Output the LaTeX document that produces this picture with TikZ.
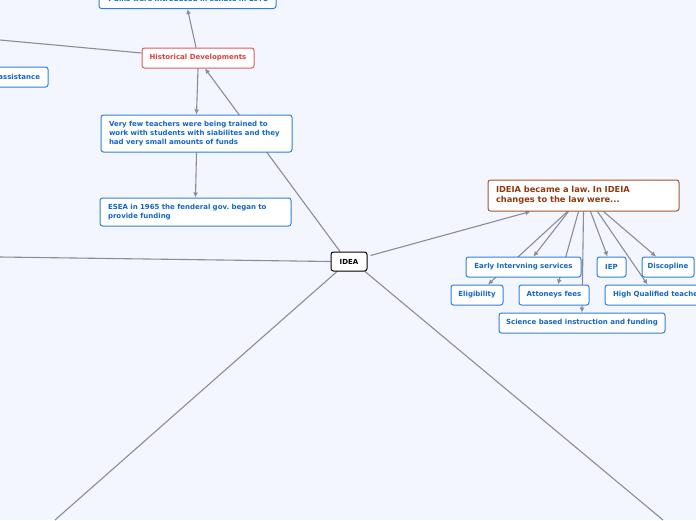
\documentclass[tikz,border=0pt]{standalone}
\usepackage{fontspec}
\setmainfont{DejaVu Sans}
\frenchspacing
\usepackage{tikz}
\usetikzlibrary{arrows.meta,calc,backgrounds}
\definecolor{mbg}{HTML}{F3F6FE}
\definecolor{mblue}{HTML}{2F80DA}
\definecolor{mtext}{HTML}{1466C8}
\definecolor{mred}{HTML}{E25B5B}
\definecolor{mredtext}{HTML}{E03E3E}
\definecolor{mbrown}{HTML}{A4562E}
\definecolor{mbrowntext}{HTML}{8E3A12}
\definecolor{mline}{HTML}{8A8C98}

\begin{document}
\begin{tikzpicture}[x=1pt,y=-1pt,
    topic/.style={draw=mblue,fill=white,rounded corners=2.5pt,line width=1pt,
      text=mtext,font=\fontsize{7}{8.7}\selectfont\bfseries,
      minimum height=20pt,inner sep=0pt},
    longtopic/.style={topic,align=left,inner xsep=8pt,inner ysep=4pt},
    link/.style={mline,line width=1.1pt},
    arrowlink/.style={link,-{Latex[length=5pt,width=5pt]}}]
      % Background
      \useasboundingbox (0,0) rectangle (696,520);
      \begin{scope}[on background layer]
        \fill[mbg] (0,0) rectangle (696,520);
      \end{scope}

      % Free ends that leave the picture
      \coordinate (offhist) at (0,40);
      \coordinate (offleft) at (0,257);
      \coordinate (offsw) at (55,520);
      \coordinate (offse) at (663,520);

      % Centre
      \node[draw=black,fill=white,rounded corners=2.5pt,line width=1pt,
            font=\fontsize{7}{8}\selectfont\bfseries,
            minimum width=36pt,minimum height=19pt,inner sep=0pt]
        (idea) at (349,261.5) {IDEA};

      % Left branch
      \node[topic,draw=mred,text=mredtext,minimum width=112pt]
        (hist) at (198,58) {Historical Developments};
      \node[topic,minimum width=177pt] (bills) at (187.5,-1.5)
        {4 bills were introduced in senate in 1975};
      \node[topic,text width=100pt,align=right,inner xsep=8pt]
        (assist) at (-10,77) {assistance};
      \node[longtopic,text width=175pt,minimum height=37pt] (veryfew) at (196.5,133.5)
        {Very few teachers were being trained to\\work with students with siabilites and they\\had very small amounts of funds};
      \node[longtopic,text width=175pt,minimum height=28pt] (esea) at (195.5,212)
        {ESEA in 1965 the fenderal gov. began to\\provide funding};

      % Right branch
      \node[longtopic,draw=mbrown,text=mbrowntext,text width=175pt,minimum height=31pt,
            font=\fontsize{8.3}{9.8}\selectfont\bfseries]
        (ideia) at (583.5,195.5) {IDEIA became a law. In IDEIA\\changes to the law were...};
      \node[topic,minimum width=115pt] (early) at (523.5,267) {Early Intervning services};
      \node[topic,minimum width=29pt] (iep) at (611.5,267) {IEP};
      \node[topic,minimum width=52pt] (disc) at (668,267) {Discopline};
      \node[topic,minimum width=52pt] (elig) at (477,295) {Eligibility};
      \node[topic,minimum width=70pt] (att) at (554,295) {Attoneys fees};
      \node[topic,minimum width=120pt,text width=104pt,align=left,inner xsep=8pt]
        (hq) at (665,295) {High Qualified teachers};
      \node[topic,minimum width=166pt] (sci) at (582,323)
        {Science based instruction and funding};

      % Connectors
      \begin{scope}[on background layer]
      \draw[link] ($(hist.west)+(0,-5)$) -- (offhist);
      \draw[arrowlink] ($(hist.north)+(-2,0)$) -- (bills.south);
      \draw[arrowlink] (hist.south) -- (veryfew.north);
      \draw[arrowlink] (veryfew.south) -- (esea.north);
      \draw[arrowlink] ($(idea.north)+(-9,0)$) -- ($(hist.south)+(7,0)$);
      \draw[link] (idea.west) -- (offleft);
      \draw[link] ($(idea.south)+(-12,0)$) -- (offsw);
      \draw[link] ($(idea.south)+(16,0)$) -- (offse);
      \draw[arrowlink] ($(idea.east)+(3,-6)$) -- ($(ideia.south)+(-53,0)$);
      \draw[arrowlink] ($(ideia.south)+(-16,0)$) -- ($(elig.north)+(11,0)$);
      \draw[arrowlink] ($(ideia.south)+(-15,0)$) -- ($(early.north)+(10,0)$);
      \draw[arrowlink] ($(ideia.south)+(-5,0)$) -- ($(att.north)+(4,0)$);
      \draw[arrowlink] (ideia.south) -- (sci.north);
      \draw[arrowlink] ($(ideia.south)+(7,0)$) -- ($(iep.north)+(-4,0)$);
      \draw[arrowlink] ($(ideia.south)+(14,0)$) -- ($(hq.north west)+(43,0)$);
      \draw[arrowlink] ($(ideia.south)+(20,0)$) -- ($(disc.north)+(-12,0)$);
      \end{scope}
    \end{tikzpicture}
\end{document}
